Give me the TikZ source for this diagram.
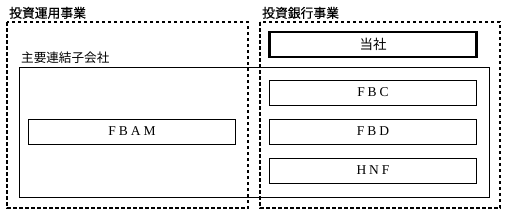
\documentclass[tikz,border=0pt]{standalone}
\usepackage{fontspec}
\setmainfont{Liberation Serif}
\newfontfamily\jpfont{Noto Sans CJK JP}
\newfontfamily\jpheadfont[FakeBold=0.5]{Noto Sans CJK JP}
\newfontfamily\widefont[LetterSpace=22]{Liberation Serif}
\usetikzlibrary{positioning}
\tikzset{
    dashedbox/.style = {draw=black, line width=1.2pt, dash pattern=on 3.5pt off 2.5pt},
    groupbox/.style = {draw=black, line width=0.9pt},
    caption/.style = {inner sep=0pt, anchor=south west, font=\jpheadfont\fontsize{12.8}{14}\selectfont},
    company/.style = {rectangle, draw=black, line width=0.9pt, minimum width=207pt, minimum height=25pt, inner sep=0pt, outer sep=0pt, text centered, font=\widefont\fontsize{13.5}{14}\selectfont}
}

\begin{document}
\begin{tikzpicture}[x=1pt, y=-1pt]
    \useasboundingbox (0,0) rectangle (507,217);
    % Segmentos
    \draw [dashedbox] (7,22) rectangle (248,208);
    \draw [dashedbox] (260,22) rectangle (500,208);
    \node (unyo) [caption] at (9,19) {投資運用事業};
    \node (ginko) [caption] at (262,19) {投資銀行事業};

    % Subsidiarias
    \draw [groupbox] (19,67) rectangle (489,197);
    \node (renketsu) [caption, font=\jpfont\fontsize{12.6}{14}\selectfont] at (21,64) {主要連結子会社};

    % Empresas
    \node (tosha) [company, line width=2.8pt, font=\jpfont\fontsize{13.5}{14}\selectfont] at (373,44.5) {当社};
    \node (fbc) [company, below=23pt of tosha] {FBC};
    \node (fbd) [company, below=14pt of fbc] {FBD};
    \node (hnf) [company, below=14pt of fbd] {HNF};
    \node (fbam) [company, left=34pt of fbd] {FBAM};
\end{tikzpicture}
\end{document}
